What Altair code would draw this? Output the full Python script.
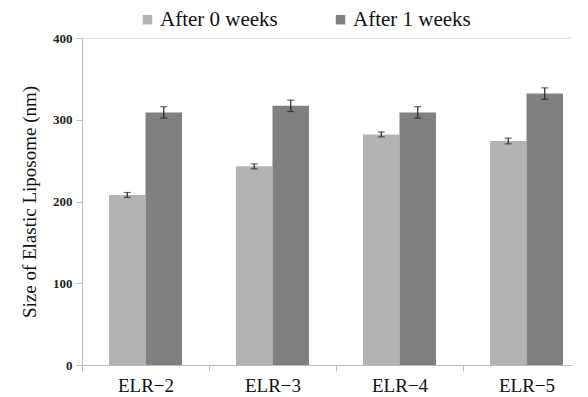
import altair as alt
import pandas as pd

categories = ["ELR−2", "ELR−3", "ELR−4", "ELR−5"]
series = ["After 0 weeks", "After 1 weeks"]
after0 = [208, 243, 282, 274]
after1 = [309, 317, 309, 332]
err0 = [3, 3, 3, 3.5]
err1 = [7, 7, 7, 7]

rows = []
for i, c in enumerate(categories):
    rows.append({"cat": c, "series": series[0], "value": after0[i], "err": err0[i]})
    rows.append({"cat": c, "series": series[1], "value": after1[i], "err": err1[i]})
df = pd.DataFrame(rows)
df["lo"] = df["value"] - df["err"]
df["hi"] = df["value"] + df["err"]

FONT = "Liberation Serif, DejaVu Serif, serif"

x = alt.X("cat:N", sort=categories, title=None,
          scale=alt.Scale(paddingInner=0, paddingOuter=0, range=[0, 508]),
          axis=alt.Axis(labelAngle=0, labelFontSize=19, labelFont=FONT, labelColor="#111",
                        tickBand="extent", domainColor="#bbb", tickColor="#bbb",
                        tickSize=6, labelPadding=5))
xo = alt.XOffset("series:N", sort=series, scale=alt.Scale(paddingInner=0, paddingOuter=0.74))

bars = alt.Chart(df).mark_bar().encode(
    x=x,
    xOffset=xo,
    y=alt.Y("value:Q", scale=alt.Scale(domain=[0, 400]), title="Size of Elastic Liposome (nm)",
            axis=alt.Axis(values=[0, 100, 200, 300, 400], grid=False, labelFontSize=13,
                          labelFont=FONT, labelFontWeight="bold", labelColor="#222",
                          titleFont=FONT, titleFontSize=19, titleFontWeight="normal",
                          titleColor="#111", domainColor="#bbb", tickColor="#bbb",
                          tickSize=6, labelPadding=4, titlePadding=13)),
    color=alt.Color("series:N", sort=series,
                    scale=alt.Scale(domain=series, range=["#b3b3b3", "#808080"]),
                    legend=alt.Legend(title=None, orient="none", direction="horizontal",
                                      legendX=55, legendY=-29, padding=0, symbolType="square",
                                      symbolSize=90, symbolStrokeWidth=0,
                                      labelFont=FONT, labelFontSize=21, labelColor="#111",
                                      columnPadding=52, symbolOffset=0, labelOffset=2)),
)

rules = alt.Chart(df).mark_rule(color="#222", strokeWidth=1.2).encode(
    x=alt.X("cat:N", sort=categories),
    xOffset=xo,
    y="lo:Q",
    y2="hi:Q",
)
caps_lo = alt.Chart(df).mark_tick(color="#222", size=7, thickness=1.2).encode(
    x=alt.X("cat:N", sort=categories), xOffset=xo, y="lo:Q")
caps_hi = alt.Chart(df).mark_tick(color="#222", size=7, thickness=1.2).encode(
    x=alt.X("cat:N", sort=categories), xOffset=xo, y="hi:Q")

chart = alt.layer(bars, rules, caps_lo, caps_hi).properties(
    width=490, height=327,
    autosize=alt.AutoSizeParams(type="none"),
    padding={"left": 74, "top": 30, "right": 0, "bottom": 30},
).configure_view(stroke=None).configure(background="white")

chart.save("out.html", embed_options={"renderer": "svg", "actions": False})
